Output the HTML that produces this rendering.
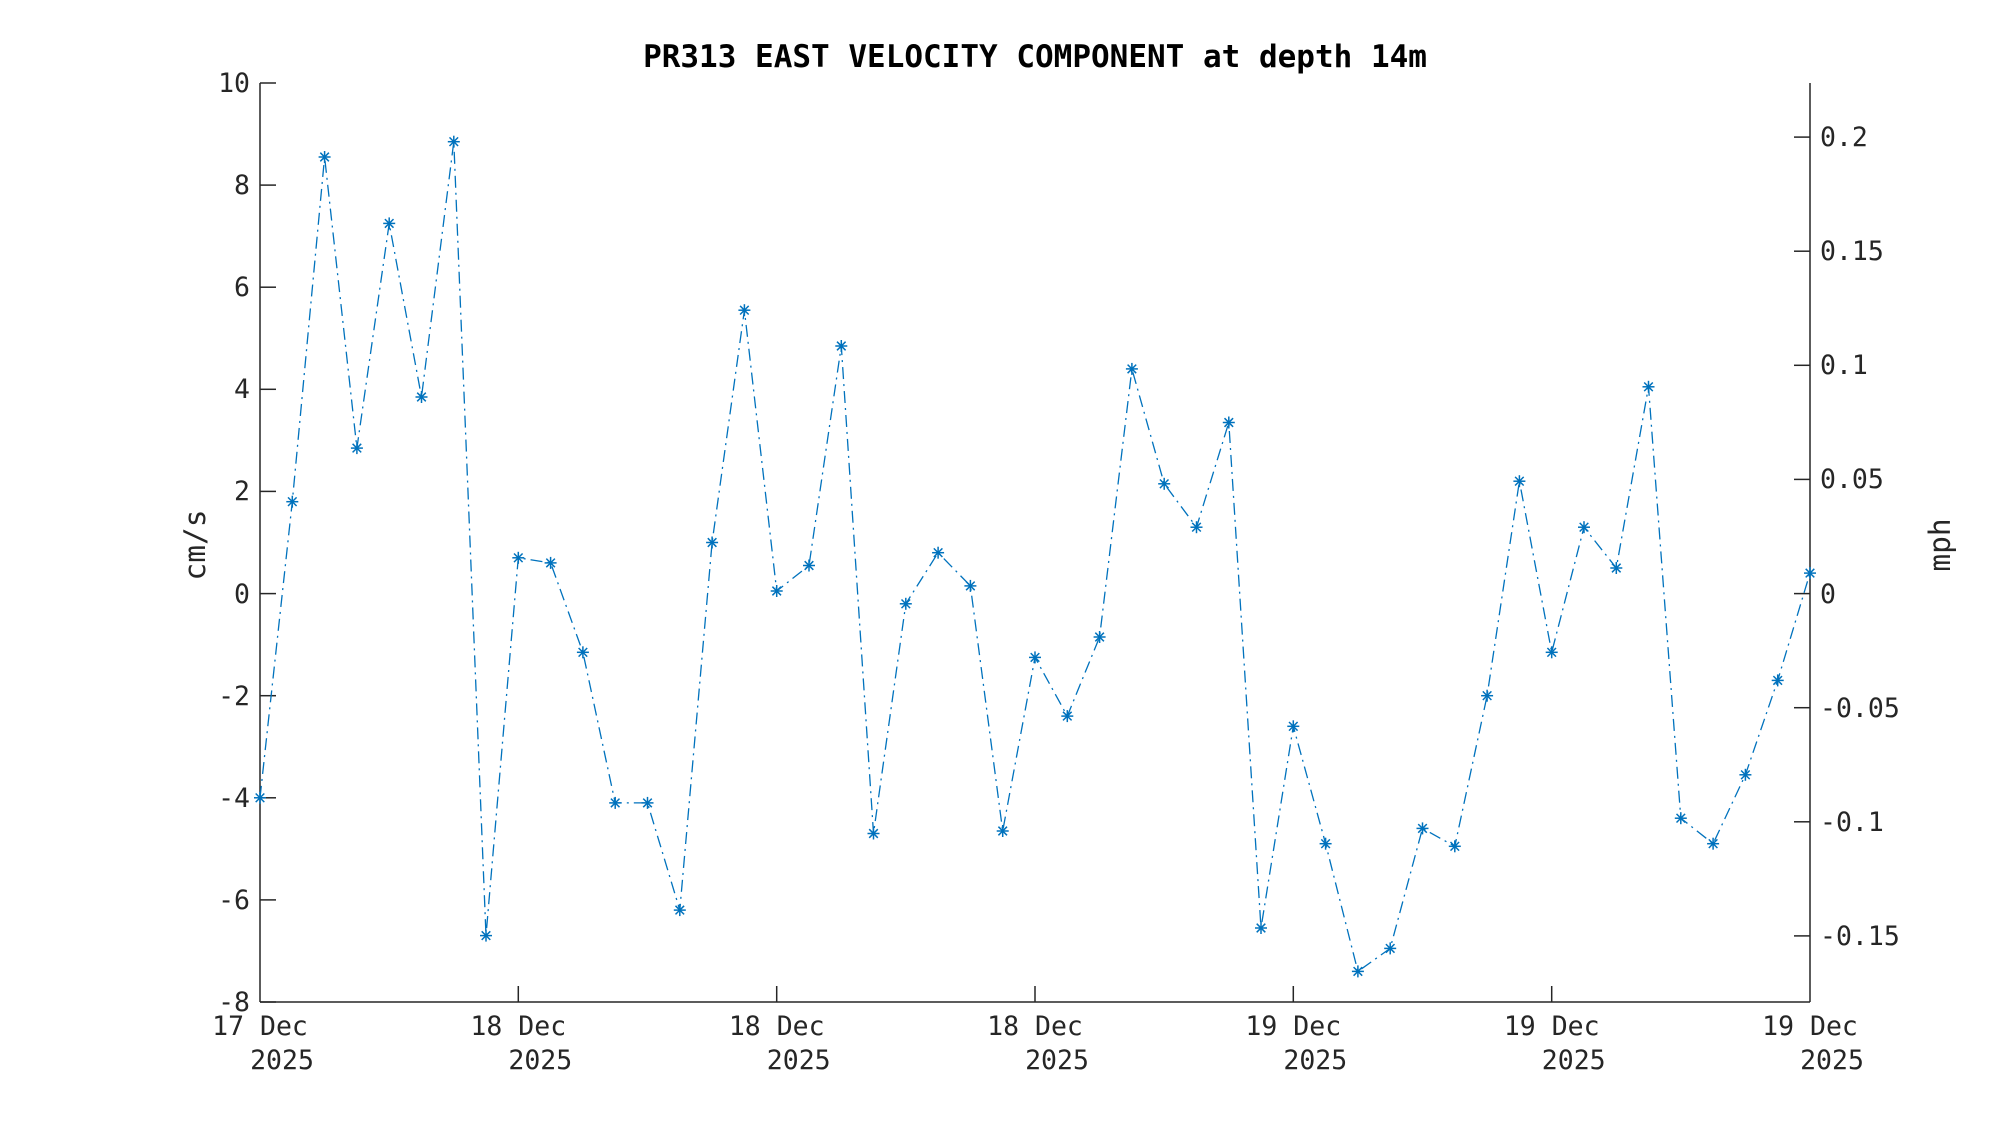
<!DOCTYPE html><html><head><style>body{margin:0;background:#fff}</style></head><body>
<svg width="2000" height="1125" xmlns="http://www.w3.org/2000/svg" xmlns:xlink="http://www.w3.org/1999/xlink" font-family="DejaVu Sans Mono, Liberation Mono, monospace">
<defs><g id="m" stroke="#0072BD" stroke-width="1.5"><line x1="-6" y1="0" x2="6" y2="0"/><line x1="0" y1="-6" x2="0" y2="6"/><line x1="-4.3" y1="-4.3" x2="4.3" y2="4.3"/><line x1="-4.3" y1="4.3" x2="4.3" y2="-4.3"/></g></defs>
<rect width="2000" height="1125" fill="#fff"/>
<g stroke="#262626" stroke-width="1.5">
<line x1="260" y1="83" x2="260" y2="1002"/><line x1="260" y1="1002" x2="1810" y2="1002"/><line x1="1810" y1="83" x2="1810" y2="1002"/>
<line x1="260" y1="1002" x2="276" y2="1002"/><line x1="260" y1="899.9" x2="276" y2="899.9"/><line x1="260" y1="797.8" x2="276" y2="797.8"/><line x1="260" y1="695.7" x2="276" y2="695.7"/><line x1="260" y1="593.6" x2="276" y2="593.6"/><line x1="260" y1="491.4" x2="276" y2="491.4"/><line x1="260" y1="389.3" x2="276" y2="389.3"/><line x1="260" y1="287.2" x2="276" y2="287.2"/><line x1="260" y1="185.1" x2="276" y2="185.1"/><line x1="260" y1="83" x2="276" y2="83"/>
<line x1="1794" y1="935.9" x2="1810" y2="935.9"/><line x1="1794" y1="821.8" x2="1810" y2="821.8"/><line x1="1794" y1="707.7" x2="1810" y2="707.7"/><line x1="1794" y1="593.6" x2="1810" y2="593.6"/><line x1="1794" y1="479.4" x2="1810" y2="479.4"/><line x1="1794" y1="365.3" x2="1810" y2="365.3"/><line x1="1794" y1="251.2" x2="1810" y2="251.2"/><line x1="1794" y1="137.1" x2="1810" y2="137.1"/>
<line x1="518.3" y1="986" x2="518.3" y2="1002"/><line x1="776.7" y1="986" x2="776.7" y2="1002"/><line x1="1035" y1="986" x2="1035" y2="1002"/><line x1="1293.3" y1="986" x2="1293.3" y2="1002"/><line x1="1551.7" y1="986" x2="1551.7" y2="1002"/>
</g>
<g font-size="26.5" fill="#262626" text-anchor="end">
<text x="250" y="1011">-8</text><text x="250" y="909">-6</text><text x="250" y="807">-4</text><text x="250" y="705">-2</text><text x="250" y="603">0</text><text x="250" y="500">2</text><text x="250" y="398">4</text><text x="250" y="296">6</text><text x="250" y="194">8</text><text x="250" y="92">10</text>
</g>
<g font-size="26.5" fill="#262626">
<text x="1820" y="945">-0.15</text><text x="1820" y="831">-0.1</text><text x="1820" y="717">-0.05</text><text x="1820" y="603">0</text><text x="1820" y="488">0.05</text><text x="1820" y="374">0.1</text><text x="1820" y="260">0.15</text><text x="1820" y="146">0.2</text>
</g>
<g font-size="26.5" fill="#262626" text-anchor="middle">
<text x="260" y="1035">17 Dec</text><text x="282" y="1069">2025</text>
<text x="518.3" y="1035">18 Dec</text><text x="540.3" y="1069">2025</text>
<text x="776.7" y="1035">18 Dec</text><text x="798.7" y="1069">2025</text>
<text x="1035" y="1035">18 Dec</text><text x="1057" y="1069">2025</text>
<text x="1293.3" y="1035">19 Dec</text><text x="1315.3" y="1069">2025</text>
<text x="1551.7" y="1035">19 Dec</text><text x="1573.7" y="1069">2025</text>
<text x="1810" y="1035">19 Dec</text><text x="1832" y="1069">2025</text>
</g>
<polyline fill="none" stroke="#0072BD" stroke-width="1.3" stroke-dasharray="12,5,2,5" points="260,797.8 292.3,501.7 324.6,157 356.9,448.1 389.2,223.4 421.5,397 453.8,141.7 486,935.6 518.3,557.8 550.6,562.9 582.9,652.3 615.2,802.9 647.5,802.9 679.8,910.1 712.1,542.5 744.4,310.2 776.7,591 809,565.5 841.3,346 873.5,833.5 905.8,603.8 938.1,552.7 970.4,585.9 1002.7,831 1035,657.4 1067.3,716.1 1099.6,637 1131.9,368.9 1164.2,483.8 1196.5,527.2 1228.8,422.5 1261,928 1293.3,726.3 1325.6,843.7 1357.9,971.4 1390.2,948.4 1422.5,828.4 1454.8,846.3 1487.1,695.7 1519.4,481.2 1551.7,652.3 1584,527.2 1616.3,568 1648.5,386.8 1680.8,818.2 1713.1,843.7 1745.4,774.8 1777.7,680.4 1810,573.1"/>
<use xlink:href="#m" x="260" y="797.8"/><use xlink:href="#m" x="292.3" y="501.7"/><use xlink:href="#m" x="324.6" y="157"/><use xlink:href="#m" x="356.9" y="448.1"/><use xlink:href="#m" x="389.2" y="223.4"/><use xlink:href="#m" x="421.5" y="397"/><use xlink:href="#m" x="453.8" y="141.7"/><use xlink:href="#m" x="486" y="935.6"/><use xlink:href="#m" x="518.3" y="557.8"/><use xlink:href="#m" x="550.6" y="562.9"/><use xlink:href="#m" x="582.9" y="652.3"/><use xlink:href="#m" x="615.2" y="802.9"/><use xlink:href="#m" x="647.5" y="802.9"/><use xlink:href="#m" x="679.8" y="910.1"/><use xlink:href="#m" x="712.1" y="542.5"/><use xlink:href="#m" x="744.4" y="310.2"/><use xlink:href="#m" x="776.7" y="591"/><use xlink:href="#m" x="809" y="565.5"/><use xlink:href="#m" x="841.3" y="346"/><use xlink:href="#m" x="873.5" y="833.5"/><use xlink:href="#m" x="905.8" y="603.8"/><use xlink:href="#m" x="938.1" y="552.7"/><use xlink:href="#m" x="970.4" y="585.9"/><use xlink:href="#m" x="1002.7" y="831"/><use xlink:href="#m" x="1035" y="657.4"/><use xlink:href="#m" x="1067.3" y="716.1"/><use xlink:href="#m" x="1099.6" y="637"/><use xlink:href="#m" x="1131.9" y="368.9"/><use xlink:href="#m" x="1164.2" y="483.8"/><use xlink:href="#m" x="1196.5" y="527.2"/><use xlink:href="#m" x="1228.8" y="422.5"/><use xlink:href="#m" x="1261" y="928"/><use xlink:href="#m" x="1293.3" y="726.3"/><use xlink:href="#m" x="1325.6" y="843.7"/><use xlink:href="#m" x="1357.9" y="971.4"/><use xlink:href="#m" x="1390.2" y="948.4"/><use xlink:href="#m" x="1422.5" y="828.4"/><use xlink:href="#m" x="1454.8" y="846.3"/><use xlink:href="#m" x="1487.1" y="695.7"/><use xlink:href="#m" x="1519.4" y="481.2"/><use xlink:href="#m" x="1551.7" y="652.3"/><use xlink:href="#m" x="1584" y="527.2"/><use xlink:href="#m" x="1616.3" y="568"/><use xlink:href="#m" x="1648.5" y="386.8"/><use xlink:href="#m" x="1680.8" y="818.2"/><use xlink:href="#m" x="1713.1" y="843.7"/><use xlink:href="#m" x="1745.4" y="774.8"/><use xlink:href="#m" x="1777.7" y="680.4"/><use xlink:href="#m" x="1810" y="573.1"/>
<text x="1035" y="67" font-size="31" font-weight="bold" text-anchor="middle" fill="#000">PR313 EAST VELOCITY COMPONENT at depth 14m</text>
<text transform="translate(205,545) rotate(-90)" font-size="29.5" text-anchor="middle" fill="#262626">cm/s</text>
<text transform="translate(1950,545) rotate(-90)" font-size="29.5" text-anchor="middle" fill="#262626">mph</text>
</svg></body></html>
